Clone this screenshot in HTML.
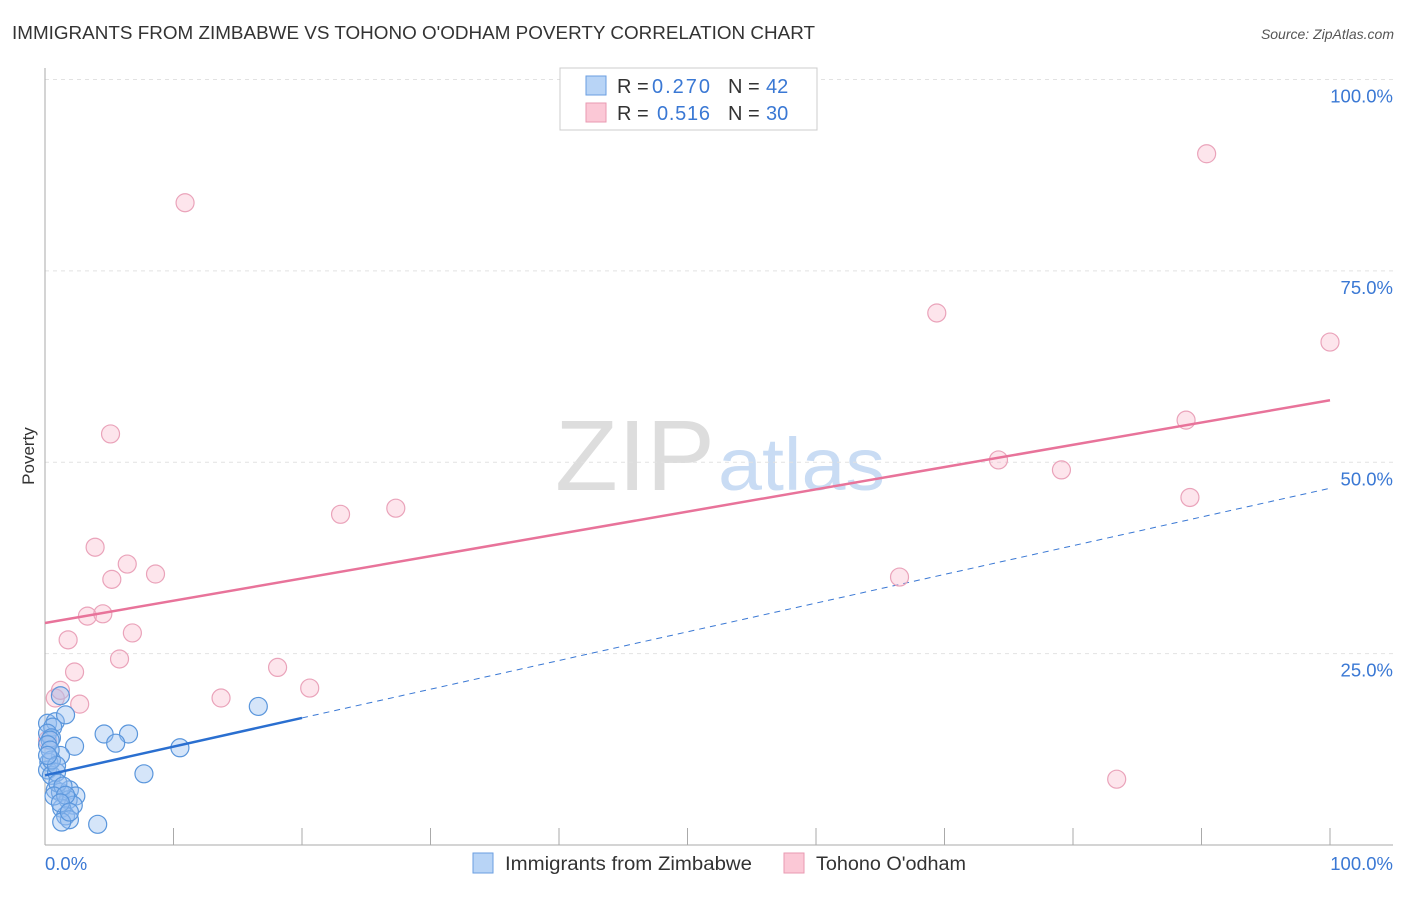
<!DOCTYPE html>
<html><head><meta charset="utf-8"><style>
body{margin:0;background:#fff;font-family:"Liberation Sans",sans-serif}
svg text{font-family:"Liberation Sans",sans-serif}
</style></head><body>
<svg width="1406" height="892" xmlns="http://www.w3.org/2000/svg">
<text x="12" y="39" font-size="18" fill="#333" textLength="803" lengthAdjust="spacingAndGlyphs">IMMIGRANTS FROM ZIMBABWE VS TOHONO O'ODHAM POVERTY CORRELATION CHART</text>
<text x="1394" y="39" font-size="14" fill="#555" font-style="italic" text-anchor="end">Source: ZipAtlas.com</text>
<text x="34" y="456" font-size="17" fill="#333" text-anchor="middle" transform="rotate(-90 34 456)">Poverty</text>
<g>
<text x="555" y="490" font-size="100" fill="#ddd" font-family="Liberation Serif" textLength="160" lengthAdjust="spacingAndGlyphs">ZIP</text>
<text x="718" y="490" font-size="74" fill="#c9dcf4" textLength="167" lengthAdjust="spacingAndGlyphs">atlas</text>
</g>
<g id="grid"></g>
<g id="axes"></g>
<g id="lines"></g>
<g id="pts"></g>
<g>
<rect x="560" y="68" width="257" height="62" fill="#fff" stroke="#ccc"/>
<rect x="586" y="76" width="20" height="19" fill="#b8d4f6" stroke="#6a9ee0"/>
<text x="617" y="93" font-size="20" fill="#333">R =</text><text x="652" y="93" font-size="20" fill="#3a78d4" textLength="58">0.270</text>
<text x="728" y="93" font-size="20" fill="#333">N =</text><text x="766" y="93" font-size="20" fill="#3a78d4">42</text>
<rect x="586" y="103" width="20" height="19" fill="#fbc8d6" stroke="#e89ab2"/>
<text x="617" y="120" font-size="20" fill="#333">R =</text><text x="657" y="120" font-size="20" fill="#3a78d4" textLength="53">0.516</text>
<text x="728" y="120" font-size="20" fill="#333">N =</text><text x="766" y="120" font-size="20" fill="#3a78d4">30</text>
</g>
<g>
<rect x="473" y="853" width="20" height="20" fill="#b8d4f6" stroke="#6a9ee0"/>
<text x="505" y="870" font-size="19" fill="#333" textLength="247" lengthAdjust="spacingAndGlyphs">Immigrants from Zimbabwe</text>
<rect x="784" y="853" width="20" height="20" fill="#fbc8d6" stroke="#e89ab2"/>
<text x="816" y="870" font-size="19" fill="#333" textLength="150" lengthAdjust="spacingAndGlyphs">Tohono O'odham</text>
</g>
</svg>
<script>
const blueX=[1.2,0.2,0.8,1.6,0.6,2.3,0.2,0.5,1.2,0.3,0.2,0.5,0.9,0.8,1.2,1.9,2.4,1.8,2.2,1.3,1.6,1.9,1.3,4.1,7.7,6.5,4.6,5.5,10.5,16.6,0.4,0.2,0.5,1.0,1.4,0.7,1.6,1.2,1.9,0.4,0.9,0.2];
const blueY=[19.5,15.9,16.1,17.0,15.4,12.9,14.6,14.0,11.7,10.8,9.8,9.1,9.5,7.2,6.9,7.2,6.4,5.9,5.2,4.8,3.8,3.3,3.0,2.7,9.3,14.5,14.5,13.3,12.7,18.1,13.7,13.1,11.1,8.1,7.7,6.4,6.5,5.5,4.3,12.4,10.4,11.7];
const pinkX=[10.9,90.4,69.4,100,88.8,74.2,79.1,89.1,5.1,27.3,23.0,3.9,6.4,8.6,5.2,3.3,4.5,6.8,1.8,5.8,2.3,18.1,20.6,13.7,2.7,0.8,1.2,66.5,83.4,0.2];
const pinkY=[83.9,90.3,69.5,65.7,55.5,50.3,49.0,45.4,53.7,44.0,43.2,38.9,36.7,35.4,34.7,29.9,30.2,27.7,26.8,24.3,22.6,23.2,20.5,19.2,18.4,19.2,20.2,35.0,8.6,13.7];
const yTicks=[25,50,75,100];
const yTickLabels=["25.0%","50.0%","75.0%","100.0%"];
const xTicks=[10,20,30,40,50,60,70,80,90,100];
const blueFit=[9.1,46.6]; const blueSolidEnd=20;
const pinkFit=[29.0,58.1];
const NS="http://www.w3.org/2000/svg";
const X=v=>45+v*12.85, Y=v=>845-v*7.655;
function mk(t,a,p){const e=document.createElementNS(NS,t);for(const k in a)e.setAttribute(k,a[k]);p.appendChild(e);return e;}
const grid=document.getElementById('grid'),axes=document.getElementById('axes'),lines=document.getElementById('lines'),pts=document.getElementById('pts');
yTicks.forEach((v,i)=>{
 const l=mk('line',{x1:45,x2:1393,y1:Y(v),y2:Y(v),stroke:'#e2e2e2','stroke-dasharray':'4,4'},grid);
 
 
 const t=mk('text',{x:1393,y:Y(v)+23,'font-size':18.5,fill:'#3a78d4','text-anchor':'end'},grid);t.textContent=yTickLabels[i];
 
 
});
const ax=mk('line',{x1:45,x2:45,y1:68,y2:845,stroke:'#aaa'},axes);


const bx=mk('line',{x1:45,x2:1393,y1:845,y2:845,stroke:'#aaa'},axes);


xTicks.forEach(v=>{const t=mk('line',{x1:X(v),x2:X(v),y1:828,y2:845,stroke:'#aaa'},axes);
 
 });
const t0=mk('text',{x:45,y:870,'font-size':18.5,fill:'#3a78d4'},axes);t0.textContent='0.0%';


const t1=mk('text',{x:1393,y:870,'font-size':18.5,fill:'#3a78d4','text-anchor':'end'},axes);t1.textContent='100.0%';


const by=v=>blueFit[0]+(blueFit[1]-blueFit[0])*v/100;
const bd=mk('line',{x1:X(blueSolidEnd),y1:Y(by(blueSolidEnd)),x2:X(100),y2:Y(by(100)),stroke:'#3a78d4','stroke-width':1,'stroke-dasharray':'6,5'},lines);


pinkX.forEach((x,i)=>{const c=mk('circle',{cx:X(x),cy:Y(pinkY[i]),r:9,fill:'rgba(248,180,200,0.35)',stroke:'#eaa3ba','stroke-width':1.2},pts);
 
 });
blueX.forEach((x,i)=>{const c=mk('circle',{cx:X(x),cy:Y(blueY[i]),r:9,fill:'rgba(150,190,240,0.4)',stroke:'#5a96dc','stroke-width':1.2},pts);
 
 });
const pl=mk('line',{x1:X(0),y1:Y(pinkFit[0]),x2:X(100),y2:Y(pinkFit[1]),stroke:'#e8739a','stroke-width':2.5},pts);


const bl=mk('line',{x1:X(0),y1:Y(by(0)),x2:X(blueSolidEnd),y2:Y(by(blueSolidEnd)),stroke:'#2a6fd0','stroke-width':2.5},pts);


</script>
</body></html>
